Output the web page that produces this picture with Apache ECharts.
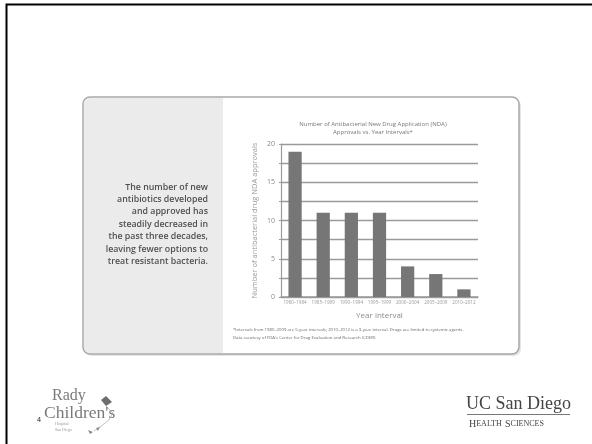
<!DOCTYPE html>
<html>
<head>
<meta charset="utf-8">
<script src="https://cdn.jsdelivr.net/npm/echarts@6/dist/echarts.min.js"></script>
<style>
  html, body { margin: 0; padding: 0; background: #fff; }
  #chart { width: 592px; height: 444px; }
</style>
</head>
<body>
<div id="chart"></div>
<script>
// Approval counts per year interval
const categories = ['1980–1984', '1985–1989', '1990–1994', '1995–1999', '2000–2004', '2005–2009', '2010–2012'];
const approvals = [19, 11, 11, 11, 4, 3, 1];
const yTickLabels = [0, 5, 10, 15, 20];

const chartTitle = 'Number of Antibacterial New Drug Application (NDA)\nApprovals vs. Year Intervals*';
const yName = 'Number of antibacterial drug NDA approvals';
const xName = 'Year interval';
const footnote = [
  '*Intervals from 1980–2009 are 5-year intervals; 2010–2012 is a 3-year interval. Drugs are limited to systemic agents.',
  "Data courtesy of FDA's Center for Drug Evaluation and Research (CDER)."
];
const sideText = [
  'The number of new',
  'antibiotics developed',
  'and approved has',
  'steadily decreased in',
  'the past three decades,',
  'leaving fewer options to',
  'treat resistant bacteria.'
];

const sans = '"Open Sans", "Noto Sans", sans-serif';
const serif = '"Liberation Serif", "DejaVu Serif", serif';

const chart = echarts.init(document.getElementById('chart'), null, { renderer: 'canvas' });

const graphics = [
  // slide frame (runs past the right and bottom edges)
  { type: 'rect', z: -10, shape: { x: 6.5, y: 4.5, width: 600, height: 460 },
    style: { fill: '#fff', stroke: '#000', lineWidth: 2 } },
  // card shadow + card
  { type: 'rect', z: -9, shape: { x: 85, y: 99, width: 436, height: 257, r: 7 },
    style: { fill: '#e6e6e6' } },
  { type: 'rect', z: -8, shape: { x: 83, y: 97, width: 436, height: 257, r: 7 },
    style: { fill: '#fff', stroke: '#a8a8a8', lineWidth: 1.5 } },
  // grey side panel
  { type: 'rect', z: -7, shape: { x: 84, y: 98, width: 139, height: 255, r: [6, 0, 0, 6] },
    style: { fill: '#ebebeb' } },
  // slide number
  { type: 'text', left: 37, top: 416, style: { text: '4', font: '7px ' + sans, fill: '#222' } },
  // Rady Children's wordmark
  { type: 'text', left: 52, top: 388, style: { text: 'Rady', font: '16px ' + serif, fill: '#7a7a7a' } },
  { type: 'text', left: 44, top: 404, style: { text: "Children's", font: '17.5px ' + serif, fill: '#7a7a7a' } },
  { type: 'text', left: 55, top: 422, style: { text: 'Hospital', font: '4px ' + serif, fill: '#999' } },
  { type: 'text', left: 55, top: 428, style: { text: 'San Diego', font: '4px ' + serif, fill: '#999' } },
  { type: 'polygon', shape: { points: [[101, 400], [106, 396], [112, 402], [106, 406]] },
    style: { fill: '#6e6e6e' } },
  { type: 'polygon', shape: { points: [[88, 430], [93, 432], [90, 434]] }, style: { fill: '#8a8a8a' } },
  { type: 'polygon', shape: { points: [[96, 428], [100, 427], [98, 431]] }, style: { fill: '#8a8a8a' } },
  { type: 'polyline', shape: { points: [[106, 406], [113, 413], [109, 420], [100, 427], [94, 431]] },
    style: { stroke: '#999', lineWidth: 0.6, fill: null } },
  // UC San Diego wordmark
  { type: 'text', left: 466, top: 395, style: { text: 'UC San Diego', font: '18px ' + serif, fill: '#444' } },
  { type: 'rect', shape: { x: 467, y: 414, width: 103, height: 1 }, style: { fill: '#777' } },
  { type: 'text', left: 469, top: 417, style: {
      rich: {
        b: { font: '10px ' + serif, fill: '#444', lineHeight: 11, verticalAlign: 'bottom' },
        s: { font: '8px ' + serif, fill: '#444', lineHeight: 11, verticalAlign: 'bottom', padding: [0, 0, 0.6, 0] }
      },
      text: '{b|H}{s|EALTH} {b|S}{s|CIENCES}' } }
];

// side panel paragraph, right aligned
sideText.forEach(function (line, i) {
  graphics.push({ type: 'text', x: 208, y: 187 + i * 12.4,
    style: { text: line, font: '600 8.8px ' + sans, fill: '#505050', align: 'right', verticalAlign: 'middle' } });
});
// footnote lines
footnote.forEach(function (line, i) {
  graphics.push({ type: 'text', x: 233, y: 330 + i * 8,
    style: { text: line, font: '4.3px ' + sans, fill: '#666', verticalAlign: 'middle' } });
});

chart.setOption({
  animation: false,
  title: {
    text: chartTitle,
    left: 368, top: 115, textAlign: 'center',
    textStyle: { fontFamily: sans, fontSize: 6, fontWeight: 'normal', color: '#777', lineHeight: 8.5 }
  },
  grid: { left: 281, right: 114, top: 144, bottom: 147 },
  xAxis: {
    type: 'category',
    data: categories,
    name: xName, nameLocation: 'middle', nameGap: 15,
    nameTextStyle: { fontFamily: sans, fontSize: 8, color: '#8a8a8a' },
    axisLine: { lineStyle: { color: '#9a9a9a', width: 1.5 } },
    axisTick: { show: false },
    axisLabel: { interval: 0, margin: 3, fontFamily: sans, fontSize: 4.6, color: '#999' }
  },
  yAxis: {
    type: 'value', min: 0, max: 20, interval: 2.5,
    name: yName, nameLocation: 'middle', nameGap: 22,
    nameTextStyle: { fontFamily: sans, fontSize: 7.5, color: '#9a9a9a' },
    axisLine: { show: true, lineStyle: { color: '#9a9a9a', width: 1.2 } },
    axisTick: { show: true, length: 2, lineStyle: { color: '#9a9a9a' } },
    axisLabel: {
      margin: 6, fontFamily: sans, fontSize: 7, color: '#8a8a8a',
      formatter: function (v) { return yTickLabels.indexOf(v) >= 0 ? String(v) : ''; }
    },
    splitLine: { lineStyle: { color: '#9a9a9a', width: 1.3 } }
  },
  series: [{
    type: 'bar',
    data: approvals,
    barWidth: '47%',
    itemStyle: { color: '#767676' }
  }],
  graphic: graphics
});
</script>
</body>
</html>
